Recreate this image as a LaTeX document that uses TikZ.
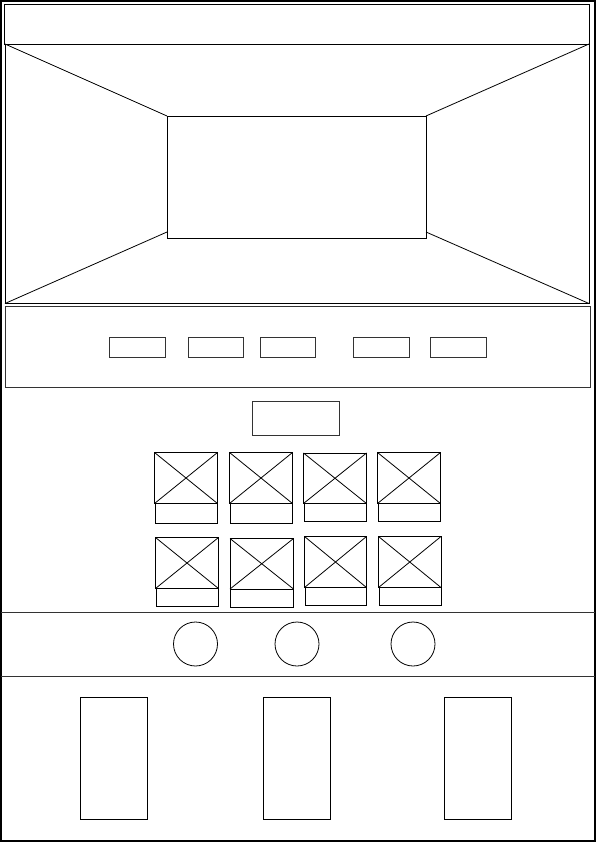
\documentclass[tikz,border=0pt]{standalone}
\usepackage{tikz}

\begin{document}
\begin{tikzpicture}[x=1pt,y=-1pt,line width=0.8pt,
  frame/.style={black,line width=1.3pt},
  btn/.style={black!80,line width=0.8pt}]
\useasboundingbox (0,0) rectangle (596,842);
\draw[frame] (1,1) rectangle (595,841);
% header and viewport
\draw (4.5,4.5) rectangle (589,44);
\coordinate (vtl) at (5,44);
\coordinate (vtr) at (589,44);
\coordinate (vbl) at (5,303.5);
\coordinate (vbr) at (589,303.5);
\draw (vtl) rectangle (vbr);
\draw (167,116) rectangle (426,238);
\draw (vtl) -- (167,116);
\draw (vtr) -- (426,116);
\draw (vbl) -- (167,232);
\draw (vbr) -- (426,232);
% toolbar
\draw[black!80] (5,306) rectangle (590,387);
\draw[btn] (109,337) rectangle (165,357);
\draw[btn] (188,337) rectangle (243,357);
\draw[btn] (260,337) rectangle (315,357);
\draw[btn] (353,337) rectangle (409,357);
\draw[btn] (430,337) rectangle (486,357);
\draw[btn] (252,401) rectangle (339,435);
% thumbnails
\foreach \xa/\xb/\ya/\yb/\yc in {154.5/217.5/452.5/503.5/523, 229.5/292.5/452.5/503.5/523,
    303.5/366.5/453/503.5/521.5, 377.5/440.5/452.5/503.5/521.5,
    155.5/218.5/537.5/588.5/606.5, 230/293.5/538.5/589/607,
    304.5/366.5/536.5/587.5/605, 378.5/441/536.5/587.5/605} {
  \draw (\xa,\ya) rectangle (\xb,\yb);
  \draw (\xa,\ya) -- (\xb,\yb);
  \draw (\xa,\yb) -- (\xb,\ya);
  \draw (\xa+0.8,\yb) rectangle (\xb,\yc);
}
% controls strip
\draw[black!80] (1,612) -- (595,612);
\draw[black!80] (1,676) -- (595,676);
\draw (195.5,644) circle (22);
\draw (297,644) circle (22);
\draw (413,644) circle (22);
% bottom panels
\draw (80.5,697) rectangle (147,819);
\draw (263.5,697) rectangle (330,819);
\draw (444.5,697) rectangle (511,819);
\end{tikzpicture}
\end{document}
